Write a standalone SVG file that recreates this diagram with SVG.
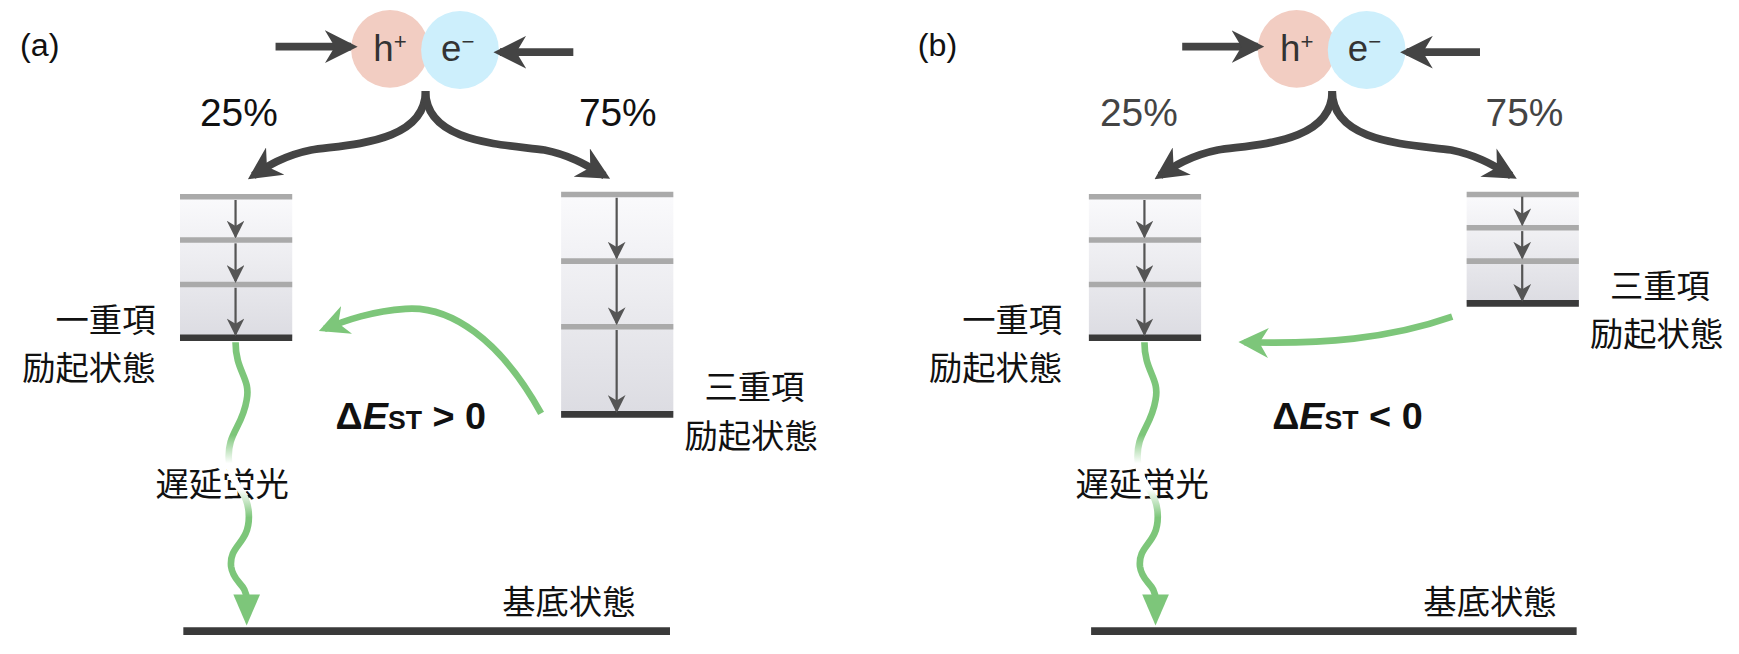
<svg xmlns="http://www.w3.org/2000/svg" width="1739" height="654" viewBox="0 0 1739 654">
<style>
text{font-family:"Liberation Sans","Noto Sans CJK JP",sans-serif;font-size:35px;fill:#111}
.jp{font-family:"Noto Sans CJK JP",sans-serif;font-size:30px}
.dk{stroke:#444;stroke-width:7;fill:none}
.th{stroke:#555;stroke-width:2;fill:none}
.lv{stroke:#aaa;stroke-width:5}
.gl{stroke:#7dc67a;stroke-width:6;fill:none}
.gnd{stroke:#3a3a3a;stroke-width:7}
.base{stroke:#3a3a3a;stroke-width:6}
</style>
<defs>
<linearGradient id="box" x1="0" y1="0" x2="0" y2="1"><stop offset="0" stop-color="#fafafc"/><stop offset="1" stop-color="#dcdce2"/></linearGradient>
<marker id="ah" viewBox="0 0 10 10" refX="8" refY="5" markerWidth="4.2" markerHeight="4.2" orient="auto" markerUnits="strokeWidth"><path d="M0,0L10,5L0,10L3,5z" fill="#444"/></marker>
<marker id="sh" viewBox="0 0 10 10" refX="9" refY="5" markerWidth="8" markerHeight="8" orient="auto" markerUnits="strokeWidth"><path d="M0,0L10,5L0,10L3,5z" fill="#555"/></marker>
<marker id="gh" viewBox="0 0 10 10" refX="8" refY="5" markerWidth="4.5" markerHeight="4.5" orient="auto" markerUnits="strokeWidth"><path d="M0,0L10,5L0,10L3,5z" fill="#7dc67a"/></marker>
<linearGradient id="wv" gradientUnits="userSpaceOnUse" x1="0" y1="308" x2="0" y2="540"><stop offset="0" stop-color="#7dc67a"/><stop offset="0.36" stop-color="#7dc67a"/><stop offset="0.47" stop-color="#fff"/><stop offset="0.57" stop-color="#fff"/><stop offset="0.68" stop-color="#7dc67a"/><stop offset="1" stop-color="#7dc67a"/></linearGradient>
<path id="wave" d="M212,308 C212,335 226,340 222,360 C218,385 204,390 206,415 C208,440 224,440 224,465 C224,490 206,490 208,510 C210,525 222,525 222,540"/>
</defs>
<g transform="scale(1.1111)">
<g id="panelA">
<text x="18" y="50" style="font-size:29px">(a)</text>
<g id="a-carriers">
<circle cx="351" cy="44" r="35" fill="#f2cdc2"/><circle cx="414" cy="45" r="35" fill="#cdeffc"/>
<text x="336" y="55" style="fill:#333;font-size:33px">h<tspan font-size="20" dy="-11">+</tspan></text>
<text x="397" y="55" style="fill:#333;font-size:33px">e<tspan font-size="20" dy="-11">−</tspan></text>
</g>
<text x="180" y="113">25%</text><text x="521" y="113">75%</text>
<g id="a-singlet">
<rect x="162" y="177" width="101" height="127" fill="url(#box)"/>
<line class="lv" x1="162" y1="177" x2="263" y2="177" stroke-width="3"/>
<line class="lv" x1="162" y1="216" x2="263" y2="216"/>
<line class="lv" x1="162" y1="256" x2="263" y2="256"/>
<line class="base" x1="162" y1="304" x2="263" y2="304"/>
<line class="th" x1="212" y1="180" x2="212" y2="213" marker-end="url(#sh)"/>
<line class="th" x1="212" y1="219" x2="212" y2="253" marker-end="url(#sh)"/>
<line class="th" x1="212" y1="259" x2="212" y2="301" marker-end="url(#sh)"/>
<text class="jp" x="50" y="299">一重項</text><text class="jp" x="20" y="342">励起状態</text>
</g>
<g id="a-triplet">
<rect x="505" y="175" width="101" height="198" fill="url(#box)"/>
<line class="lv" x1="505" y1="175" x2="606" y2="175" stroke-width="3"/>
<line class="lv" x1="505" y1="235" x2="606" y2="235"/>
<line class="lv" x1="505" y1="294" x2="606" y2="294"/>
<line class="base" x1="505" y1="373" x2="606" y2="373"/>
<line class="th" x1="555" y1="178" x2="555" y2="232" marker-end="url(#sh)"/>
<line class="th" x1="555" y1="238" x2="555" y2="291" marker-end="url(#sh)"/>
<line class="th" x1="555" y1="297" x2="555" y2="370" marker-end="url(#sh)"/>
<text class="jp" x="634" y="359">三重項</text><text class="jp" x="616" y="403">励起状態</text>
</g>
<text x="302" y="386" style="font-weight:bold;font-size:34px">Δ<tspan font-style="italic">E</tspan><tspan font-size="24">ST</tspan> &gt; 0</text>
<text class="jp" x="140" y="446">遅延蛍光</text>
<g id="a-ground"><line class="gnd" x1="165" y1="568" x2="603" y2="568"/><text class="jp" x="452" y="553">基底状態</text></g>
</g>

<g id="panelB">
<text x="826" y="50" style="font-size:29px">(b)</text>
<g id="b-carriers">
<circle cx="1167" cy="44" r="35" fill="#f2cdc2"/><circle cx="1230" cy="45" r="35" fill="#cdeffc"/>
<text x="1152" y="55" style="fill:#333;font-size:33px">h<tspan font-size="20" dy="-11">+</tspan></text>
<text x="1213" y="55" style="fill:#333;font-size:33px">e<tspan font-size="20" dy="-11">−</tspan></text>
</g>
<text x="990" y="113" style="fill:#444">25%</text><text x="1337" y="113" style="fill:#444">75%</text>
<g id="b-singlet">
<rect x="980" y="177" width="101" height="127" fill="url(#box)"/>
<line class="lv" x1="980" y1="177" x2="1081" y2="177" stroke-width="3"/>
<line class="lv" x1="980" y1="216" x2="1081" y2="216"/>
<line class="lv" x1="980" y1="256" x2="1081" y2="256"/>
<line class="base" x1="980" y1="304" x2="1081" y2="304"/>
<line class="th" x1="1030" y1="180" x2="1030" y2="213" marker-end="url(#sh)"/>
<line class="th" x1="1030" y1="219" x2="1030" y2="253" marker-end="url(#sh)"/>
<line class="th" x1="1030" y1="259" x2="1030" y2="301" marker-end="url(#sh)"/>
<text class="jp" x="866" y="299">一重項</text><text class="jp" x="836" y="342">励起状態</text>
</g>
<g id="b-triplet">
<rect x="1320" y="175" width="101" height="98" fill="url(#box)"/>
<line class="lv" x1="1320" y1="175" x2="1421" y2="175" stroke-width="3"/>
<line class="lv" x1="1320" y1="205" x2="1421" y2="205"/>
<line class="lv" x1="1320" y1="235" x2="1421" y2="235"/>
<line class="base" x1="1320" y1="273" x2="1421" y2="273"/>
<line class="th" x1="1370" y1="177" x2="1370" y2="202" marker-end="url(#sh)"/>
<line class="th" x1="1370" y1="208" x2="1370" y2="232" marker-end="url(#sh)"/>
<line class="th" x1="1370" y1="238" x2="1370" y2="270" marker-end="url(#sh)"/>
<text class="jp" x="1449" y="268">三重項</text><text class="jp" x="1431" y="311">励起状態</text>
</g>
<text x="1145" y="386" style="font-weight:bold;font-size:34px">Δ<tspan font-style="italic">E</tspan><tspan font-size="24">ST</tspan> &lt; 0</text>
<text class="jp" x="968" y="446">遅延蛍光</text>
<g id="b-ground"><line class="gnd" x1="982" y1="568" x2="1419" y2="568"/><text class="jp" x="1281" y="553">基底状態</text></g>
</g>

<g id="connectors">
<line class="dk" x1="248" y1="42" x2="316" y2="42" marker-end="url(#ah)"/>
<line class="dk" x1="516" y1="47" x2="450" y2="47" marker-end="url(#ah)"/>
<path class="dk" d="M383,82 C383,130 310,130 280,135 C255,140 240,150 228,158" marker-end="url(#ah)"/>
<path class="dk" d="M383,82 C383,130 456,130 490,135 C515,140 530,150 544,158" marker-end="url(#ah)"/>
<line class="dk" x1="1064" y1="42" x2="1132" y2="42" marker-end="url(#ah)"/>
<line class="dk" x1="1332" y1="47" x2="1266" y2="47" marker-end="url(#ah)"/>
<path class="dk" d="M1199,82 C1199,130 1126,130 1096,135 C1071,140 1056,150 1044,158" marker-end="url(#ah)"/>
<path class="dk" d="M1199,82 C1199,130 1272,130 1306,135 C1331,140 1346,150 1360,158" marker-end="url(#ah)"/>
<path class="gl" d="M487,372 C450,305 405,275 365,278 C335,280 312,288 292,296" marker-end="url(#gh)"/>
<path class="gl" d="M1307,285 C1250,305 1190,310 1120,308" marker-end="url(#gh)"/>
<use href="#wave" fill="none" stroke="url(#wv)" stroke-width="6"/>
<path d="M210,535 L234,535 L222,563 Z" fill="#7dc67a"/>
<use href="#wave" fill="none" stroke="url(#wv)" stroke-width="6" transform="translate(818,0)"/>
<path d="M1028,535 L1052,535 L1040,563 Z" fill="#7dc67a"/>
</g>
</g>
</svg>
